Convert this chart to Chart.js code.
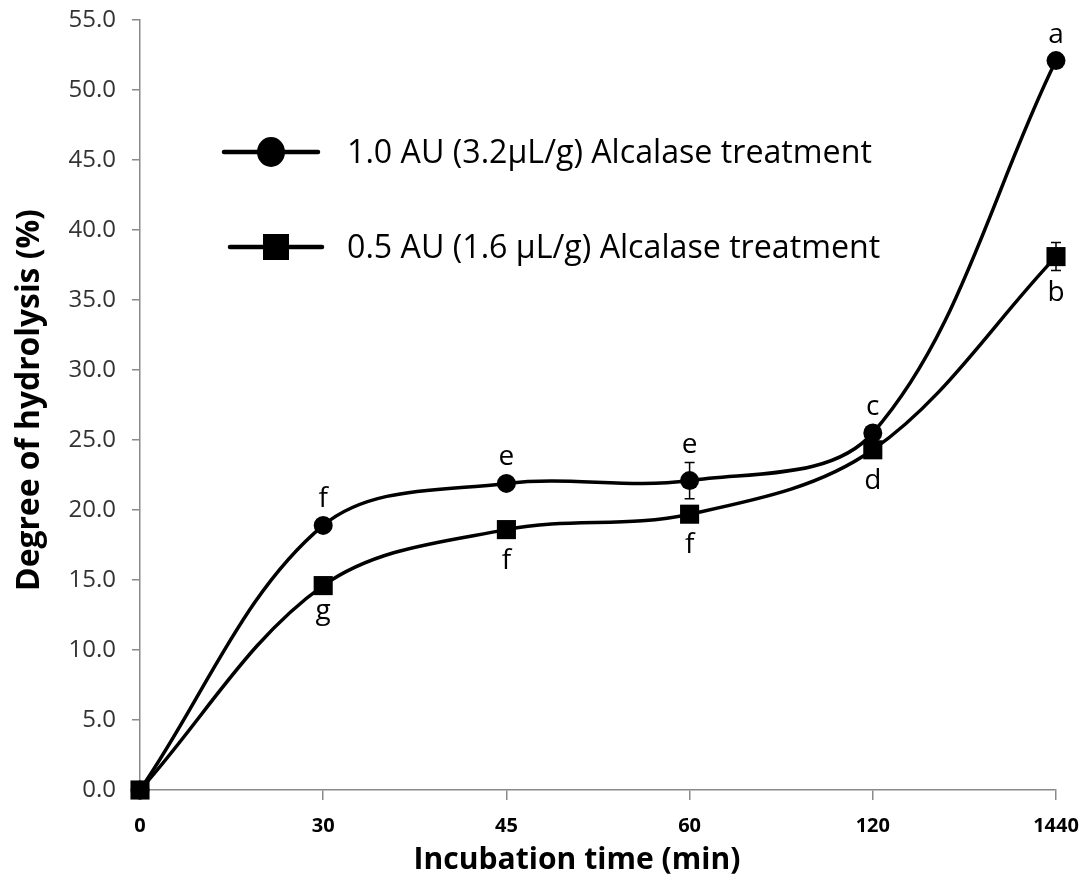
<!DOCTYPE html>
<html><head><meta charset="utf-8">
<script src="https://cdn.jsdelivr.net/npm/chart.js@4.4.0/dist/chart.umd.min.js"></script>
<style>html,body{margin:0;padding:0;background:#fff}</style>
</head><body>
<canvas id="c" width="1090" height="884"></canvas>
<script>
const categories = ['0', '30', '45', '60', '120', '1440'];
const series1Label = '1.0 AU (3.2µL/g) Alcalase treatment';
const series2Label = '0.5 AU (1.6 µL/g) Alcalase treatment';
const series1Values = [0, 18.9, 21.9, 22.1, 25.5, 52.1];
const series2Values = [0, 14.6, 18.6, 19.7, 24.3, 38.1];
const series1Errors = [0, 0.3, 0.3, 1.3, 0.3, 0.3];
const series2Errors = [0, 0.3, 0.3, 0.3, 0.3, 1.0];
const series1Letters = ['', 'f', 'e', 'e', 'c', 'a'];
const series2Letters = ['', 'g', 'f', 'f', 'd', 'b'];
const xTitle = 'Incubation time (min)';
const yTitle = 'Degree of hydrolysis (%)';
const yMin = 0, yMax = 55, yStep = 5;

const FAMILY = '"Open Sans", "DejaVu Sans", sans-serif';
const AXIS_GRAY = '#8a8a8a';

function fitSize(ctx, text, weight, target) {
  ctx.save();
  ctx.font = weight + ' 100px ' + FAMILY;
  const w = ctx.measureText(text).width;
  ctx.restore();
  return 100 * target / w;
}

const errorBars = {
  id: 'errorBars',
  afterDatasetsDraw(chart) {
    const {ctx} = chart;
    const y = chart.scales.y;
    const errs = [series1Errors, series2Errors];
    chart.data.datasets.forEach((ds, di) => {
      const meta = chart.getDatasetMeta(di);
      meta.data.forEach((pt, i) => {
        const e = errs[di][i];
        if (!e) return;
        const v = ds.data[i];
        const yt = y.getPixelForValue(v + e), yb = y.getPixelForValue(v - e);
        ctx.save();
        ctx.strokeStyle = '#000';
        ctx.lineWidth = 1.5;
        ctx.beginPath();
        ctx.moveTo(pt.x, yt); ctx.lineTo(pt.x, yb);
        ctx.moveTo(pt.x - 5, yt); ctx.lineTo(pt.x + 5, yt);
        ctx.moveTo(pt.x - 5, yb); ctx.lineTo(pt.x + 5, yb);
        ctx.stroke();
        ctx.restore();
      });
    });
  }
};

const letters = {
  id: 'letters',
  afterDatasetsDraw(chart) {
    const {ctx} = chart;
    const y = chart.scales.y;
    const gap = 9;
    ctx.save();
    ctx.font = '28px ' + FAMILY;
    ctx.fillStyle = '#000';
    ctx.textAlign = 'center';
    ctx.textBaseline = 'alphabetic';
    chart.getDatasetMeta(0).data.forEach((pt, i) => {
      const t = series1Letters[i]; if (!t) return;
      const ePx = Math.max(Math.abs(y.getPixelForValue(series1Values[i] + series1Errors[i]) - pt.y), 9);
      const m = ctx.measureText(t);
      ctx.fillText(t, pt.x, pt.y - ePx - gap - m.actualBoundingBoxDescent);
    });
    chart.getDatasetMeta(1).data.forEach((pt, i) => {
      const t = series2Letters[i]; if (!t) return;
      const ePx = Math.max(Math.abs(y.getPixelForValue(series2Values[i] - series2Errors[i]) - pt.y), 9);
      const m = ctx.measureText(t);
      ctx.fillText(t, pt.x, pt.y + ePx + gap + m.actualBoundingBoxAscent);
    });
    ctx.restore();
  }
};

const customLegendAndTitles = {
  id: 'customLegendAndTitles',
  afterDraw(chart) {
    const {ctx} = chart;
    ctx.save();
    const lsize = fitSize(ctx, series1Label, 'normal', 525);
    ctx.font = lsize + 'px ' + FAMILY;
    ctx.fillStyle = '#000';
    ctx.textAlign = 'left';
    ctx.textBaseline = 'middle';
    ctx.strokeStyle = '#000';
    ctx.lineWidth = 4.5;
    ctx.lineCap = 'round';
    ctx.beginPath(); ctx.moveTo(224, 152); ctx.lineTo(318, 152); ctx.stroke();
    ctx.beginPath(); ctx.ellipse(271, 152, 14, 15, 0, 0, Math.PI * 2); ctx.fill();
    ctx.fillText(series1Label, 347, 154);
    ctx.beginPath(); ctx.moveTo(230, 247); ctx.lineTo(322, 247); ctx.stroke();
    ctx.fillRect(263, 234, 26, 26);
    ctx.fillText(series2Label, 347, 249);
    const xs = fitSize(ctx, xTitle, 'bold', 327);
    ctx.font = 'bold ' + xs + 'px ' + FAMILY;
    ctx.textAlign = 'center';
    ctx.fillText(xTitle, 577, 860);
    const ys = fitSize(ctx, yTitle, 'bold', 382);
    ctx.font = 'bold ' + ys + 'px ' + FAMILY;
    ctx.translate(30, 400);
    ctx.rotate(-Math.PI / 2);
    ctx.fillText(yTitle, 0, 0);
    ctx.restore();
  }
};

new Chart(document.getElementById('c'), {
  type: 'line',
  data: {
    labels: categories,
    datasets: [
      {
        label: series1Label,
        data: series1Values,
        borderColor: '#000',
        backgroundColor: '#000',
        borderWidth: 3.5,
        tension: 0.35,
        pointStyle: 'circle',
        pointRadius: 9.5,
        pointBorderWidth: 0,
        pointBackgroundColor: '#000',
        clip: false
      },
      {
        label: series2Label,
        data: series2Values,
        borderColor: '#000',
        backgroundColor: '#000',
        borderWidth: 3.5,
        tension: 0.35,
        pointStyle: 'rect',
        pointRadius: 13.5,
        pointBorderWidth: 0,
        pointBackgroundColor: '#000',
        clip: false
      }
    ]
  },
  options: {
    responsive: false,
    animation: false,
    events: [],
    layout: {padding: {left: 0, right: 34, top: 20, bottom: 0}},
    plugins: {legend: {display: false}, tooltip: {enabled: false}, title: {display: false}},
    scales: {
      x: {
        type: 'category',
        offset: false,
        afterFit(s) { s.height = 94; s.paddingLeft = 0; s.paddingRight = 0; },
        border: {display: true, color: AXIS_GRAY, width: 1.5},
        grid: {display: true, drawOnChartArea: false, drawTicks: true, tickLength: 10, color: AXIS_GRAY, lineWidth: 1.5},
        ticks: {color: '#000', font: {family: FAMILY, size: 20, weight: 'bold'}, padding: 14, maxRotation: 0, autoSkip: false}
      },
      y: {
        min: yMin, max: yMax,
        afterFit(s) { s.width = 140; s.paddingTop = 0; s.paddingBottom = 0; },
        border: {display: true, color: AXIS_GRAY, width: 1.5},
        grid: {display: true, drawOnChartArea: false, drawTicks: true, tickLength: 8, color: AXIS_GRAY, lineWidth: 1.5},
        ticks: {stepSize: yStep, color: '#333', font: {family: FAMILY, size: 24}, padding: 16,
          callback: v => Number(v).toFixed(1)}
      }
    }
  },
  plugins: [errorBars, letters, customLegendAndTitles]
});
</script>
</body></html>
